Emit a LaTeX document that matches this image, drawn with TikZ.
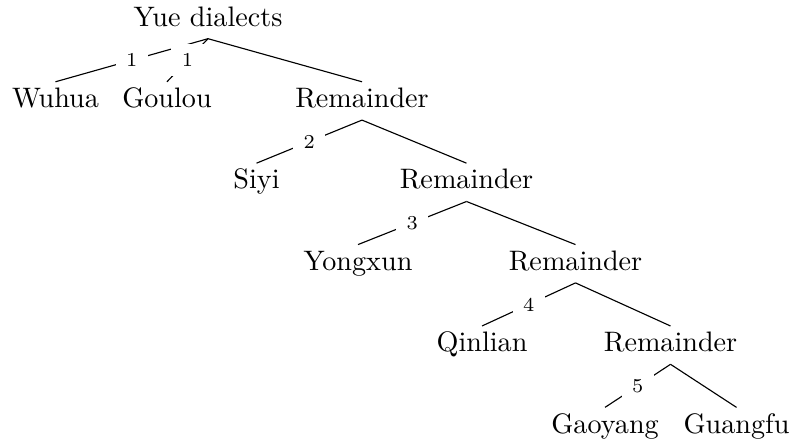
\documentclass[tikz,border=0pt]{standalone}
\begin{document}
\begin{tikzpicture}[x=0.355pt, y=-0.355pt,
  lang/.style={anchor=base, inner sep=0pt, text height=8.9pt, text depth=4.3pt},
  split/.style={midway, fill=white, font=\scriptsize, inner sep=0pt, minimum size=11.4pt}]
\useasboundingbox (0,0) rectangle (794,443);

% tree of Yue dialects, split off one branch at a time
\node[lang] (yue)   at (208,26)    {Yue dialects};
\node[lang] (wuhua) at (55.5,107.4) {Wuhua};
\node[lang] (goulou) at (167,107.4) {Goulou};
\node[lang] (remA)  at (362,107.4) {Remainder};
\node[lang] (siyi)  at (256.5,188.8) {Siyi};
\node[lang] (remB)  at (466.5,188.8) {Remainder};
\node[lang] (yongxun) at (358,270.2) {Yongxun};
\node[lang] (remC)  at (575.5,270.2) {Remainder};
\node[lang] (qinlian) at (482,351.6) {Qinlian};
\node[lang] (remD)  at (670.5,351.6) {Remainder};
\node[lang] (gaoyang) at (605,433) {Gaoyang};
\node[lang] (guangfu) at (736.5,433) {Guangfu};

\draw (yue.south) -- node[split] {1} (wuhua.north);
\draw (yue.south) -- node[split] {1} (goulou.north);
\draw (yue.south) -- (remA.north);
\draw (remA.south) -- node[split] {2} (siyi.north);
\draw (remA.south) -- (remB.north);
\draw (remB.south) -- node[split] {3} (yongxun.north);
\draw (remB.south) -- (remC.north);
\draw (remC.south) -- node[split] {4} (qinlian.north);
\draw (remC.south) -- (remD.north);
\draw (remD.south) -- node[split] {5} (gaoyang.north);
\draw (remD.south) -- (guangfu.north);
\end{tikzpicture}
\end{document}
